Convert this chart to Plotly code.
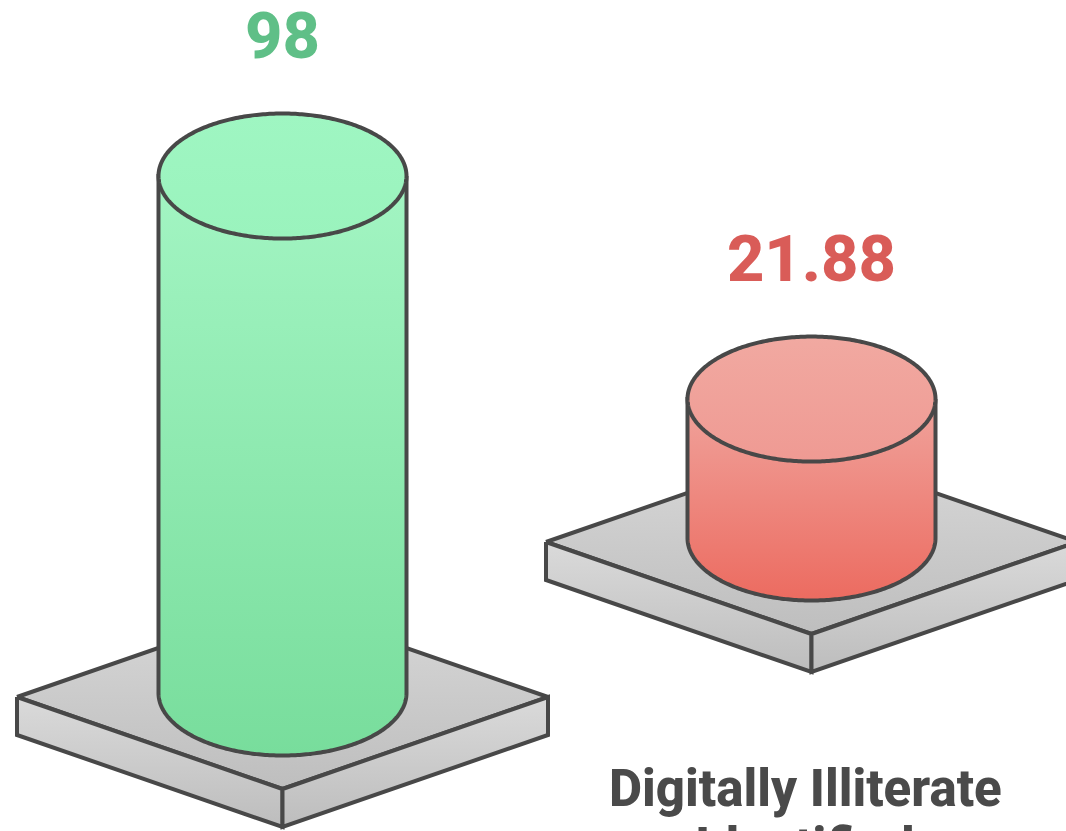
import numpy as np
import plotly.graph_objects as go

# --- data ---
categories = ["Digitally Literate Identified", "Digitally Illiterate Identified"]
values = [98, 21.88]
value_labels = ["98", "21.88"]
caption_lines = ["Digitally Illiterate", "Identified"]

# --- styling / geometry ---
centers_x = [282.5, 811.5]
bases_y = [693, 538]
value_colors = ["#5FBF87", "#D95C58"]
body_grads = [("#A3F5C3", "#78DD9C"), ("#F0A39C", "#EC6B60")]
top_grads = [("#9FF6C2", "#9AF3BD"), ("#F1A9A1", "#EF9A93")]
OUTLINE = "#484848"
LW = 4
RX, RY = 124, 62.5
PLATE_HW, PLATE_HD, PLATE_T = 265.5, 92, 38
PLATE_DY = 4
PX_PER_UNIT, HEIGHT_OFFSET = 4.966, 30.3

fig = go.Figure()


def poly(xs, ys, grad):
    xs, ys = np.asarray(xs, float), np.asarray(ys, float)
    fig.add_trace(go.Scatter(
        x=xs, y=ys, mode="lines", fill="toself",
        line=dict(color=OUTLINE, width=LW, shape="linear", simplify=False),
        fillgradient=dict(type="vertical",
                          start=float(ys.min()),
                          stop=float(ys.max()),
                          colorscale=[[0, grad[0]], [1, grad[1]]]),
        hoverinfo="skip", showlegend=False,
    ))


t_half = np.linspace(0, np.pi, 181)
t_full = np.linspace(0, 2 * np.pi, 361)

for cat, v, lab, cx, by, vc, bg, tg in zip(categories, values, value_labels, centers_x, bases_y,
                                           value_colors, body_grads, top_grads):
    py = by + PLATE_DY
    lx, rx = cx - PLATE_HW, cx + PLATE_HW
    poly([lx, cx, rx, cx, lx], [py, py - PLATE_HD, py, py + PLATE_HD, py], ("#D8D8D8", "#BEBEBE"))
    poly([lx, cx, cx, lx, lx], [py, py + PLATE_HD, py + PLATE_HD + PLATE_T, py + PLATE_T, py],
         ("#DADADA", "#BDBDBD"))
    poly([cx, rx, rx, cx, cx], [py + PLATE_HD, py, py + PLATE_T, py + PLATE_HD + PLATE_T, py + PLATE_HD],
         ("#DADADA", "#BDBDBD"))
    top = by - (HEIGHT_OFFSET + PX_PER_UNIT * v)
    bx = cx + RX * np.cos(t_half)
    bys = by + RY * np.sin(t_half)
    body_x = np.concatenate([[cx + RX], bx, [cx - RX], [cx + RX]])
    body_y = np.concatenate([[top], bys, [top], [top]])
    poly(body_x, body_y, bg)
    poly(cx + RX * np.cos(t_full), top + RY * np.sin(t_full), tg)
    fig.add_trace(go.Scatter(
        x=[cx], y=[top - 134], mode="text", text=[lab],
        textfont=dict(family="Roboto", size=65, color=vc, weight=800),
        textposition="middle center", hoverinfo="skip", showlegend=False,
    ))

fig.add_annotation(x=805, y=788, xref="x", yref="y", text=caption_lines[0], showarrow=False,
                   font=dict(family="Roboto", size=51, color="#4A4A4A", weight=800),
                   xanchor="center", yanchor="middle")
fig.add_annotation(x=805, y=815, xref="x", yref="y", text=caption_lines[1], showarrow=False,
                   font=dict(family="Roboto", size=51, color="#4A4A4A", weight=800),
                   xanchor="center", yanchor="top")

fig.update_xaxes(range=[0, 1066], visible=False, fixedrange=True)
fig.update_yaxes(range=[831, 0], visible=False, fixedrange=True)
fig.update_layout(width=1066, height=831, margin=dict(l=0, r=0, t=0, b=0),
                  paper_bgcolor="white", plot_bgcolor="white", showlegend=False)

fig.write_html("out.html", config={"displayModeBar": False},
               post_script="document.body.style.margin='0';document.documentElement.style.overflow='hidden';")
